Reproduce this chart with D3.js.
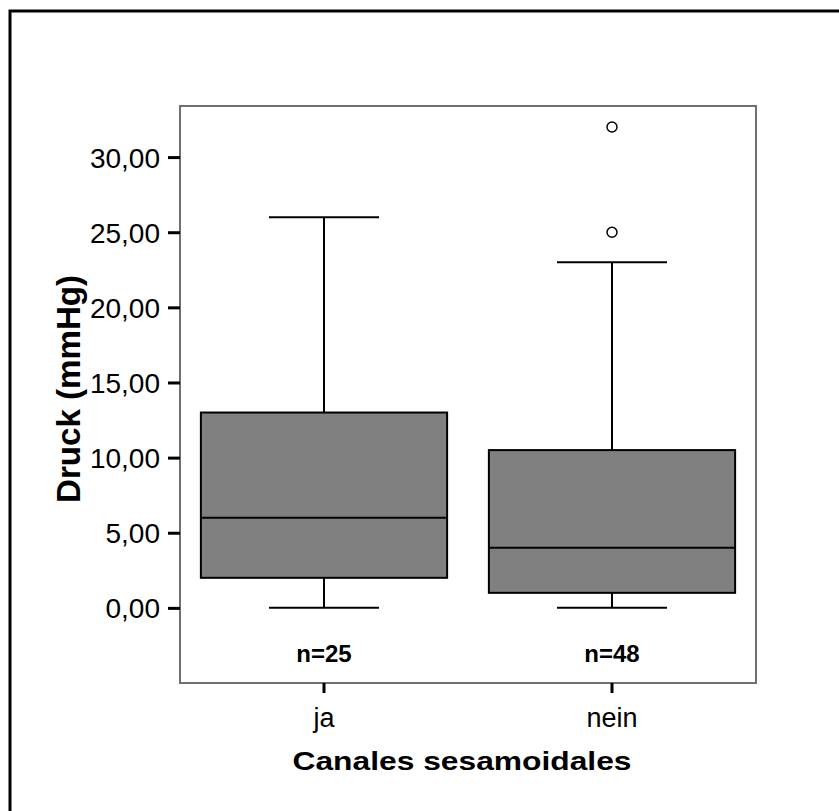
<!DOCTYPE html>
<html>
<head>
<meta charset="utf-8">
<script src="https://cdn.jsdelivr.net/npm/d3@7/dist/d3.min.js"></script>
<style>
    html, body { margin: 0; padding: 0; background: #fff; }
    svg { display: block; }
    text { font-family: "Liberation Sans", Arial, sans-serif; fill: #000; }
</style>
</head>
<body>
<svg id="chart" width="839" height="811"></svg>
<script>
var categories = ['ja', 'nein'],
    counts = [25, 48],
    whiskerLow = [0, 0],
    q1 = [2, 1],
    median = [6, 4],
    q3 = [13, 10.5],
    whiskerHigh = [26, 23],
    outliers = [[], [25, 32]],
    yTicks = [0, 5, 10, 15, 20, 25, 30];

(function(){
    'use strict';

    var svg = d3.select('#chart'),
        frame = { left: 180, right: 756, top: 106, bottom: 683 },
        fmt = function( v ){ return d3.format('.2f')( v ).replace('.', ','); },
        x = d3.scaleBand().domain( categories ).range( [frame.left, frame.right] ).padding( 0 ),
        y = d3.scaleLinear().domain( [-5, 33.4] ).range( [frame.bottom, frame.top] ),
        boxW = x.bandwidth() * 0.855,
        capW = 110,
        rows;

    // outer page border (runs off right / bottom edge)
    svg.append('rect')
        .attr('x', 10).attr('y', 11)
        .attr('width', 900).attr('height', 900)
        .attr('fill', 'none').attr('stroke', '#000').attr('stroke-width', 3);

    // plot frame
    svg.append('rect')
        .attr('x', frame.left).attr('y', frame.top)
        .attr('width', frame.right - frame.left).attr('height', frame.bottom - frame.top)
        .attr('fill', '#fff').attr('stroke', '#707070').attr('stroke-width', 2);

    // y axis
    var yAxis = svg.append('g')
        .attr('transform', 'translate(' + frame.left + ',0)')
        .call( d3.axisLeft( y ).tickValues( yTicks ).tickSize( 12 ).tickPadding( 8 ).tickFormat( fmt ) );
    yAxis.select('.domain').remove();
    yAxis.selectAll('.tick line').attr('stroke', '#000').attr('stroke-width', 3);
    yAxis.selectAll('.tick text')
        .attr('font-size', 28).attr('fill', '#1a1a1a')
        .attr('font-family', '"Liberation Sans", Arial, sans-serif')
        .attr('dy', 10);

    // x axis
    var xAxis = svg.append('g')
        .attr('transform', 'translate(0,' + frame.bottom + ')')
        .call( d3.axisBottom( x ).tickSize( 10 ).tickPadding( 0 ) );
    xAxis.select('.domain').remove();
    xAxis.selectAll('.tick line').attr('stroke', '#000').attr('stroke-width', 3);
    xAxis.selectAll('.tick text')
        .attr('font-size', 27).attr('fill', '#1a1a1a')
        .attr('font-family', '"Liberation Sans", Arial, sans-serif')
        .attr('y', 44).attr('dy', 0);

    rows = categories.map(function( c, i ){
        return {
            cat: c, n: counts[i], lo: whiskerLow[i], q1: q1[i],
            med: median[i], q3: q3[i], hi: whiskerHigh[i], out: outliers[i]
        };
    });

    var g = svg.selectAll('g.box').data( rows ).enter().append('g')
        .attr('class', 'box')
        .attr('transform', function( d ){ return 'translate(' + (x( d.cat ) + x.bandwidth() / 2) + ',0)'; });

    // whiskers
    g.append('line')
        .attr('x1', 0).attr('x2', 0)
        .attr('y1', function( d ){ return y( d.hi ); })
        .attr('y2', function( d ){ return y( d.lo ); })
        .attr('stroke', '#000').attr('stroke-width', 2);
    ['hi', 'lo'].forEach(function( k ){
        g.append('line')
            .attr('x1', -capW / 2).attr('x2', capW / 2)
            .attr('y1', function( d ){ return y( d[k] ); })
            .attr('y2', function( d ){ return y( d[k] ); })
            .attr('stroke', '#000').attr('stroke-width', 2);
    });

    // box
    g.append('rect')
        .attr('x', -boxW / 2).attr('width', boxW)
        .attr('y', function( d ){ return y( d.q3 ); })
        .attr('height', function( d ){ return y( d.q1 ) - y( d.q3 ); })
        .attr('fill', '#808080').attr('stroke', '#000').attr('stroke-width', 2);

    // median
    g.append('line')
        .attr('x1', -boxW / 2).attr('x2', boxW / 2)
        .attr('y1', function( d ){ return y( d.med ); })
        .attr('y2', function( d ){ return y( d.med ); })
        .attr('stroke', '#000').attr('stroke-width', 2);

    // outliers
    g.selectAll('circle').data(function( d ){ return d.out; }).enter().append('circle')
        .attr('cx', 0).attr('cy', function( v ){ return y( v ); })
        .attr('r', 5)
        .attr('fill', '#fff').attr('stroke', '#000').attr('stroke-width', 1.5);

    // n labels
    g.append('text')
        .attr('x', 0).attr('y', 662)
        .attr('text-anchor', 'middle')
        .attr('font-size', 24).attr('font-weight', 'bold')
        .text(function( d ){ return 'n=' + d.n; });

    // axis titles
    svg.append('text')
        .attr('x', 462).attr('y', 770)
        .attr('text-anchor', 'middle')
        .attr('font-size', 25).attr('font-weight', 'bold')
        .attr('textLength', 339).attr('lengthAdjust', 'spacingAndGlyphs')
        .text('Canales sesamoidales');

    svg.append('text')
        .attr('transform', 'translate(80,389) rotate(-90)')
        .attr('text-anchor', 'middle')
        .attr('font-size', 33).attr('font-weight', 'bold')
        .attr('textLength', 228).attr('lengthAdjust', 'spacingAndGlyphs')
        .text('Druck (mmHg)');
})();
</script>
</body>
</html>
